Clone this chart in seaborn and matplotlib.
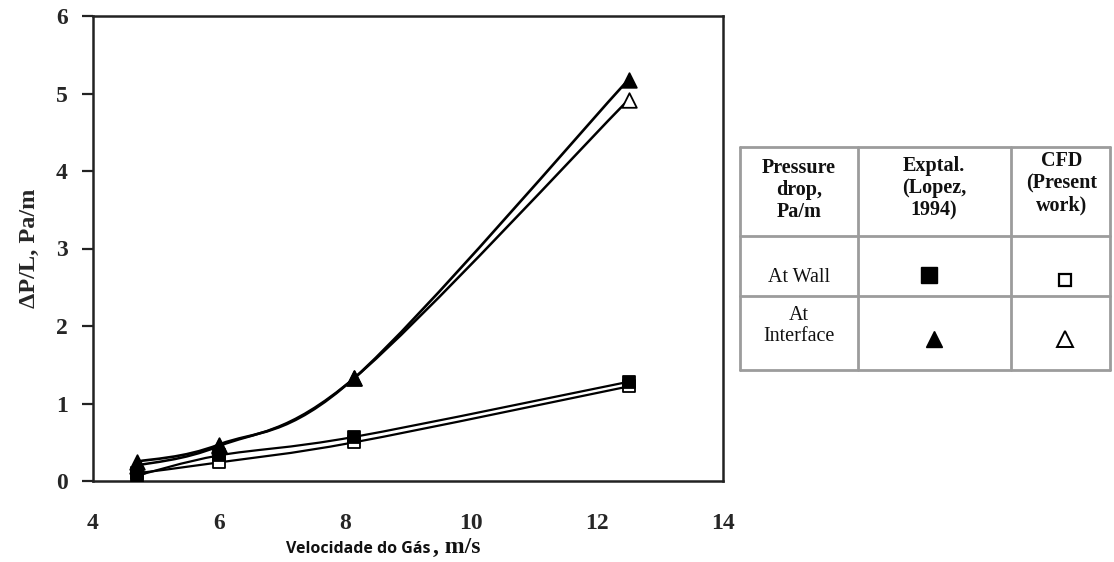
import matplotlib
matplotlib.use("Agg")
import matplotlib.pyplot as plt
from matplotlib.path import Path
from matplotlib.patches import PathPatch
import numpy as np
import seaborn as sns
import pandas as pd

sns.set_theme(style="white")
plt.rcParams["font.family"] = ["Liberation Serif", "DejaVu Serif"]

# Gas velocity (m/s) and pressure drop per length (Pa/m)
velocity = [4.7, 6.0, 8.15, 12.5]
wall_exptal = [0.07, 0.33, 0.57, 1.28]
wall_cfd = [0.10, 0.24, 0.50, 1.22]
interface_exptal = [0.25, 0.47, 1.33, 5.18]
interface_cfd = [0.20, 0.45, 1.33, 4.92]

x_ticks = [4, 6, 8, 10, 12, 14]
y_ticks = [0, 1, 2, 3, 4, 5, 6]

series = [
    ("Wall CFD", wall_cfd, "s", "white", 1.6),
    ("Interface CFD", interface_cfd, "^", "white", 1.8),
    ("Wall Exptal", wall_exptal, "s", "black", 1.6),
    ("Interface Exptal", interface_exptal, "^", "black", 1.9),
]


def smoothed_line(xs, ys):
    """Catmull-Rom style cubic Bezier path through the given points."""
    pts = np.column_stack([xs, ys]).astype(float)
    n = len(pts)
    verts = [pts[0]]
    codes = [Path.MOVETO]
    for i in range(n - 1):
        p0 = pts[max(i - 1, 0)]
        p1 = pts[i]
        p2 = pts[i + 1]
        p3 = pts[min(i + 2, n - 1)]
        verts += [p1 + (p2 - p0) / 6.0, p2 - (p3 - p1) / 6.0, p2]
        codes += [Path.CURVE4] * 3
    return Path(verts, codes)


W, H = 1114, 562
fig = plt.figure(figsize=(W / 100, H / 100), dpi=100)
fig.patch.set_facecolor("white")
ax = fig.add_axes([93 / W, 1 - 481 / H, (723 - 93) / W, (481 - 16) / H])
ax.set_facecolor("white")

for name, values, mk, face, lw in series:
    ax.add_patch(PathPatch(smoothed_line(velocity, values), fill=False,
                           edgecolor="black", lw=lw, zorder=2))

for name, values, mk, face, lw in series:
    df = pd.DataFrame({"v": velocity, "dp": values})
    sns.scatterplot(data=df, x="v", y="dp", ax=ax, marker=mk,
                    s=75 if mk == "s" else 110, color=face,
                    edgecolor="black", linewidth=1.3, zorder=3)

ax.set_xlim(4, 14)
ax.set_ylim(0, 6)
ax.set_xticks(x_ticks)
ax.set_yticks(y_ticks)
ax.set_xticklabels([str(t) for t in x_ticks], fontsize=17, fontweight="bold")
ax.set_yticklabels([str(t) for t in y_ticks], fontsize=17, fontweight="bold")
ax.tick_params(axis="y", which="major", direction="out", length=8, width=1.6,
               color="#222222", pad=10, left=True)
ax.tick_params(axis="x", which="major", length=0, pad=23, bottom=True)
for sp in ax.spines.values():
    sp.set_color("#222222")
    sp.set_linewidth(1.8)
ax.set_xlabel("")
ax.set_ylabel("ΔP/L, Pa/m", fontsize=17.5, fontweight="bold", labelpad=12)

# x-axis title in two fonts
fig.text(431 / W, 1 - 549 / H, "Velocidade do Gás", fontsize=11.5,
         fontweight="bold", family=["Open Sans", "DejaVu Sans"],
         ha="right", va="center", color="#111111")
fig.text(433 / W, 1 - 547 / H, ", m/s", fontsize=17, fontweight="bold",
         ha="left", va="center", color="#111111")

# key table on the right
tx0, tx1, ty0, ty1 = 740, 1110, 147, 370
tab = fig.add_axes([tx0 / W, 1 - ty1 / H, (tx1 - tx0) / W, (ty1 - ty0) / H])
tab.set_xlim(tx0, tx1)
tab.set_ylim(ty1, ty0)
tab.axis("off")
grid = "#9c9c9c"
for xv in (tx0, 858, 1011, tx1):
    tab.plot([xv, xv], [ty0, ty1], color=grid, lw=2, clip_on=False)
for yv in (ty0, 236, 296, ty1):
    tab.plot([tx0, tx1], [yv, yv], color=grid, lw=2, clip_on=False)

hdr = dict(fontsize=14.5, fontweight="bold", ha="center", va="center",
           color="#111111", linespacing=1.15)
tab.text(799, 190, "Pressure\ndrop,\nPa/m", **hdr)
tab.text(934, 188, "Exptal.\n(Lopez,\n1994)", **hdr)
tab.text(1062, 183, "CFD\n(Present\nwork)", **hdr)
body = dict(fontsize=14.5, ha="center", va="center", color="#111111",
            linespacing=1.1)
tab.text(799, 277, "At Wall", **body)
tab.text(799, 326, "At\nInterface", **body)

tab.plot([929], [275], marker="s", ms=11, mfc="black", mec="black")
tab.plot([1065], [280], marker="s", ms=9, mfc="white", mec="black", mew=1.6)
tab.plot([934], [339], marker="^", ms=12, mfc="black", mec="black")
tab.plot([1065], [339], marker="^", ms=11, mfc="white", mec="black", mew=1.4)

fig.savefig("out.png", dpi=100, facecolor="white")
